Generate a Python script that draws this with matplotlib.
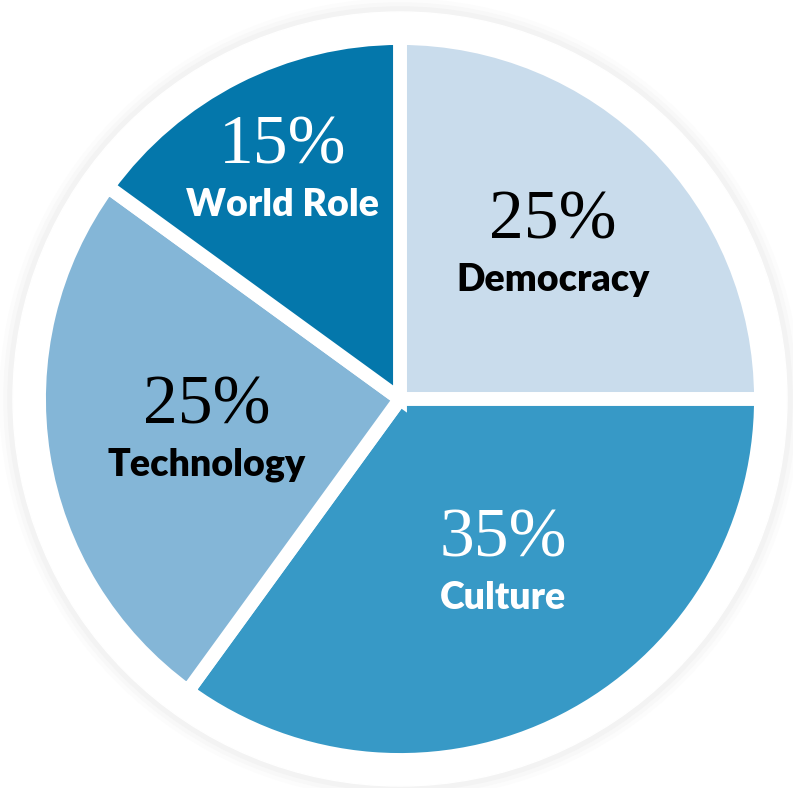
import matplotlib.pyplot as plt
from matplotlib.patches import Circle

# data
categories = ['Democracy', 'Culture', 'Technology', 'World Role']
shares = [25, 35, 25, 15]
colors = ['#c9dcec', '#3799c6', '#84b6d7', '#0477ab']
text_colors = ['black', 'white', 'black', 'white']

# label anchor points in pixels (x, y from top)
label_xy = [(553, 250), (503, 568), (207, 435), (283, 175)]

W, H = 793, 788
cx, cy = 400, H - 399

fig = plt.figure(figsize=(W / 100, H / 100), dpi=100)
ax = fig.add_axes([0, 0, 1, 1])
ax.set_xlim(0, W)
ax.set_ylim(0, H)
ax.set_aspect('equal')
ax.axis('off')

# soft grey halo round the white disc
for r, c in [(400, '#fcfcfc'), (396, '#f8f8f8'), (392, '#f3f3f3')]:
    ax.add_patch(Circle((cx, cy), r, color=c, zorder=0))
ax.add_patch(Circle((cx, cy), 387, color='white', zorder=1))

ax.pie(shares, colors=colors, startangle=90, counterclock=False,
       center=(cx, cy), radius=361, frame=True,
       wedgeprops=dict(edgecolor='white', linewidth=10, zorder=2))
ax.set_xlim(0, W)
ax.set_ylim(0, H)
ax.axis('off')

for cat, val, (x, y), tc in zip(categories, shares, label_xy, text_colors):
    ax.text(x, H - y + 28, f'{val}%', ha='center', va='center',
            fontsize=50, family='Liberation Serif', color=tc, zorder=5)
    ax.text(x, H - y - 30, cat, ha='center', va='center',
            fontsize=27, family='Lato', fontweight='heavy', color=tc, zorder=5)

fig.savefig('out.png', dpi=100)
